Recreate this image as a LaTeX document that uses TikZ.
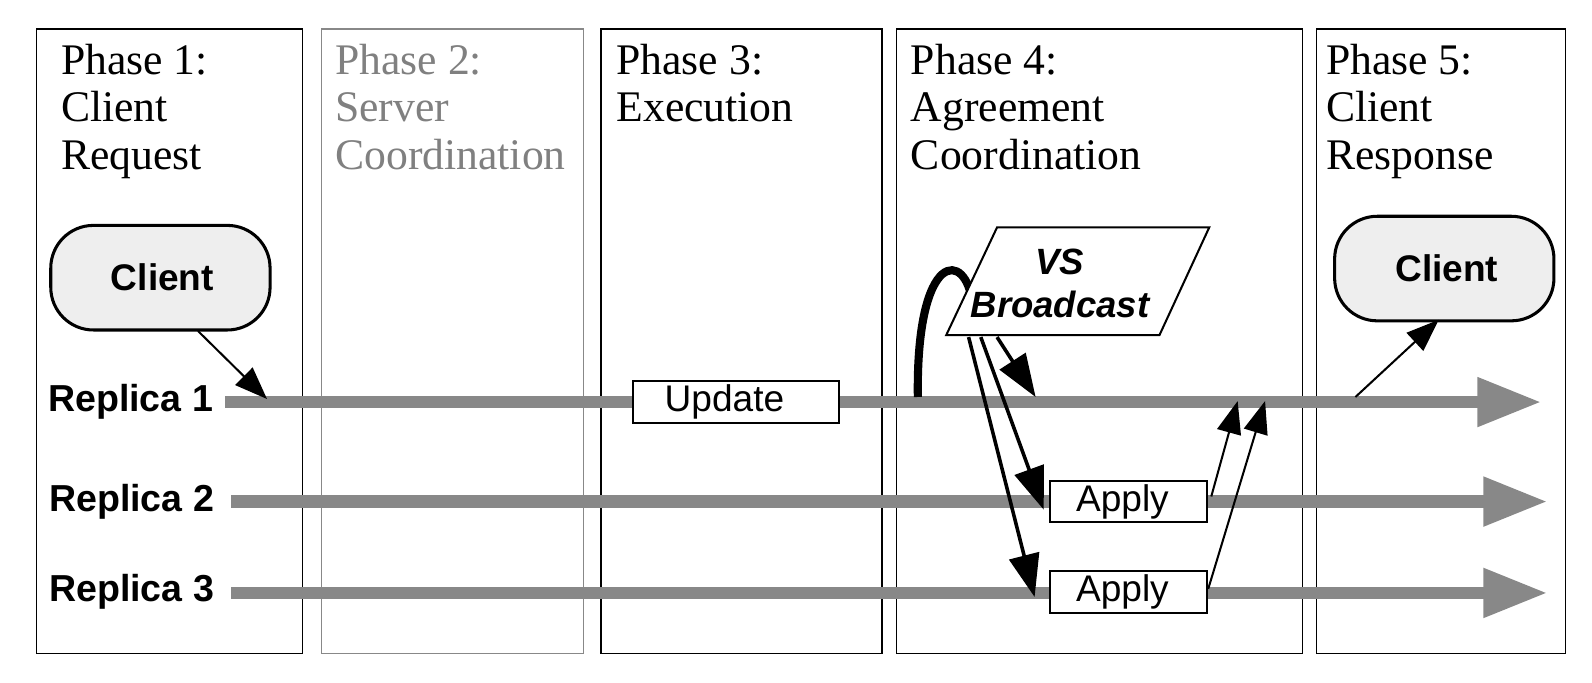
\documentclass[tikz,border=0pt]{standalone}
\usepackage{fontspec}
\setmainfont{Liberation Serif}
\setsansfont{Liberation Sans}
\usetikzlibrary{arrows.meta}
\definecolor{lgray}{HTML}{888888}
\definecolor{tgray}{HTML}{808080}
\definecolor{cfill}{HTML}{EEEEEE}
\begin{document}
\begin{tikzpicture}[x=1pt,y=-1pt,
  phasebox/.style={draw,line width=1.5pt,anchor=north west,inner sep=0pt,minimum height=615pt},
  title/.style={anchor=north west,inner sep=0pt,align=left,font=\fontsize{43}{46.5}\selectfont},
  repl/.style={draw=lgray,line width=12pt,-{Triangle[length=63pt,width=46pt,fill=lgray]}},
  rlabel/.style={anchor=east,inner sep=0pt,font=\sffamily\bfseries\fontsize{37}{40}\selectfont},
  clientbox/.style={draw,line width=3pt,fill=cfill,rounded corners=42pt,minimum width=216pt,minimum height=103pt,font=\sffamily\bfseries\fontsize{36.5}{40}\selectfont},
  opbox/.style={draw,line width=2pt,fill=white,inner sep=0pt,font=\sffamily\fontsize{36.5}{40}\selectfont},
  bcarrow/.style={line width=3.5pt,-{Triangle[length=42pt,width=30pt]}},
  thinarrow/.style={line width=2pt,-{Triangle[length=32pt,width=24pt]}}
]
\useasboundingbox (0,0) rectangle (1568,672);
% phase boxes
\node[phasebox,minimum width=262pt] (p1) at (35,28) {};
\node[phasebox,minimum width=258pt,draw=lgray] (p2) at (316,28) {};
\node[phasebox,minimum width=277pt] (p3) at (591,28) {};
\node[phasebox,minimum width=400pt] (p4) at (882,28) {};
\node[phasebox,minimum width=245pt] (p5) at (1296,28) {};
% titles
\node[title] (t1) at (60,43.5) {Phase 1:\\Client\\Request};
\node[title,text=tgray] (t2) at (330,43.5) {Phase 2:\\Server\\Coordination};
\node[title] (t3) at (607,43.5) {Phase 3:\\Execution};
\node[title] (t4) at (897,43.5) {Phase 4:\\Agreement\\Coordination};
\node[title] (t5) at (1306,43.5) {Phase 5:\\Client\\Response};
% replica lines
\coordinate (r1s) at (222,396); \coordinate (r1e) at (1518,396);
\coordinate (r2s) at (228,494); \coordinate (r2e) at (1524,494);
\coordinate (r3s) at (228,584); \coordinate (r3e) at (1524,584);
\draw[repl] (r1s) -- (r1e);
\draw[repl] (r2s) -- (r2e);
\draw[repl] (r3s) -- (r3e);
\node[rlabel] (l1) at (210,396) {Replica 1};
\node[rlabel] (l2) at (211,494) {Replica 2};
\node[rlabel] (l3) at (211,583) {Replica 3};
% clients
\node[clientbox] (c1) at (158,273.5) {\hspace*{4pt}Client};
\node[clientbox] (c2) at (1422.5,264.5) {\hspace*{5pt}Client};
\coordinate (c1a) at (195,326); \coordinate (c1b) at (263,393);
\draw[thinarrow] (c1a) -- (c1b);
\coordinate (c2a) at (1335,391); \coordinate (c2b) at (1417,315);
\draw[thinarrow] (c2a) -- (c2b);
% update
\node[opbox,minimum width=203pt,minimum height=42pt] (up) at (724.5,396) {\hspace*{-22pt}Update};
% thick curve to broadcast
\coordinate (cv0) at (904,391);
\coordinate (cv1) at (958,300);
\draw[line width=8pt] (cv0) .. controls (902,245) and (952,245) .. (cv1);
% VS broadcast
\coordinate (b1) at (982,224); \coordinate (b2) at (1191,224);
\coordinate (b3) at (1142,330); \coordinate (b4) at (932,330);
\draw[line width=2pt,fill=white] (b1) -- (b2) -- (b3) -- (b4) -- cycle;
\node[align=center,inner sep=0pt,font=\sffamily\bfseries\itshape\fontsize{36}{42}\selectfont] (vs) at (1044,279) {VS\\Broadcast};
% apply boxes
\node[opbox,minimum width=155pt,minimum height=40pt] (ap2) at (1111.5,494) {\hspace*{-12pt}Apply};
\node[opbox,minimum width=155pt,minimum height=41pt] (ap3) at (1111.5,583) {\hspace*{-12pt}Apply};
% broadcast arrows
\coordinate (sa) at (982,332); \coordinate (ea) at (1020,391);
\coordinate (sb) at (966,332); \coordinate (eb) at (1028,502);
\coordinate (sc) at (954,332); \coordinate (ec) at (1019,588);
\draw[bcarrow] (sa) -- (ea);
\draw[bcarrow] (sb) -- (eb);
\draw[bcarrow] (sc) -- (ec);
% return arrows
\coordinate (ra) at (1193,489); \coordinate (rae) at (1219,395);
\coordinate (rb) at (1190,580); \coordinate (rbe) at (1246,395);
\draw[thinarrow] (ra) -- (rae);
\draw[thinarrow] (rb) -- (rbe);
\end{tikzpicture}
\end{document}
